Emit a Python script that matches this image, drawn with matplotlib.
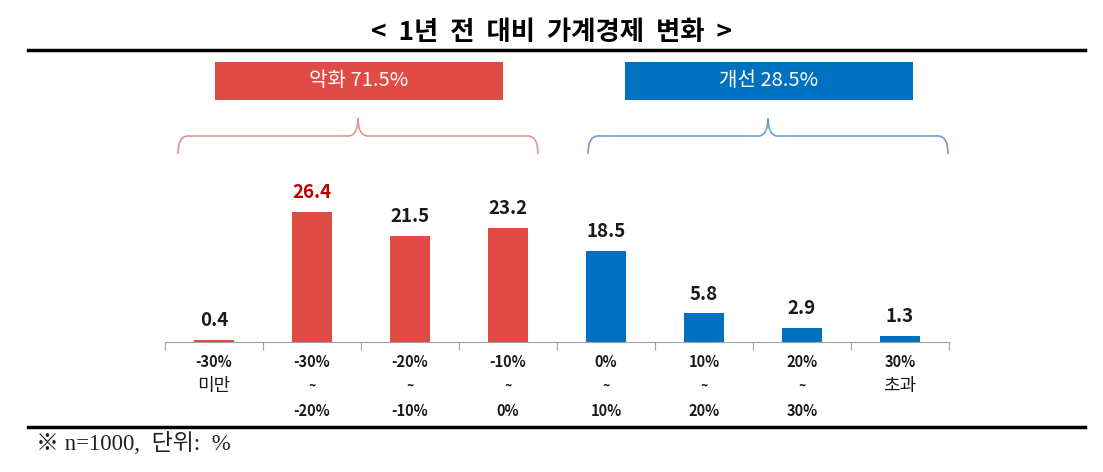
import matplotlib.pyplot as plt
from matplotlib.path import Path
from matplotlib.patches import PathPatch, Rectangle

plt.rcParams['font.family'] = ['Noto Sans CJK KR', 'DejaVu Sans']

# data
categories = ['-30%\n미만', '-30%\n~\n-20%', '-20%\n~\n-10%', '-10%\n~\n0%',
              '0%\n~\n10%', '10%\n~\n20%', '20%\n~\n30%', '30%\n초과']
values = [0.4, 26.4, 21.5, 23.2, 18.5, 5.8, 2.9, 1.3]
groups = ['악화', '악화', '악화', '악화', '개선', '개선', '개선', '개선']
group_labels = ['악화 71.5%', '개선 28.5%']

RED = '#E04B45'
BLUE = '#0070C0'
W, H = 1103, 472

fig = plt.figure(figsize=(W / 100, H / 100), dpi=100)


def fx(px):
    return px / W


def fy(py):
    return 1 - py / H


# axes: baseline at y=342, x from 165 to 949
ax = fig.add_axes([fx(165), fy(342), fx(949) - fx(165), fy(160) - fy(342)])
colors = [RED if g == '악화' else BLUE for g in groups]
xs = range(len(values))
ax.bar(xs, values, width=0.4, color=colors, zorder=2)
ax.set_xlim(-0.5, len(values) - 0.5)
ax.set_ylim(0, 182 / 4.93)

for i, v in enumerate(values):
    c = '#C00000' if v == max(values) else '#1a1a1a'
    ax.annotate(f'{v:.1f}', (i, v), xytext=(0, 7), textcoords='offset points',
                ha='center', va='bottom', fontsize=13.5, fontweight='bold', color=c)

for s in ['top', 'right', 'left']:
    ax.spines[s].set_visible(False)
ax.spines['bottom'].set_color('#a0a0a0')
ax.set_yticks([])
ax.set_xticks([i - 0.5 for i in range(len(values) + 1)])
ax.set_xticklabels([])
ax.tick_params(axis='x', length=6, color='#a0a0a0', width=0.8)
for i, lab in enumerate(categories):
    lines = lab.split('\n')
    for j, ln in enumerate(lines):
        korean = any('\uac00' <= ch <= '\ud7a3' for ch in ln)
        if korean:
            size, weight = 13, 'normal'
        elif ln == '~':
            size, weight = 9, 'bold'
        else:
            size, weight = 10.5, 'bold'
        ax.annotate(ln, (i, 0), xytext=(0, -14.5 - j * 17.5), textcoords='offset points',
                    ha='center', va='center', fontsize=size, fontweight=weight,
                    color='#1a1a1a', annotation_clip=False)

# title and rules
fig.text(0.5, fy(33), '<  1년  전  대비  가계경제  변화  >', ha='center', va='center',
         fontsize=19, fontweight='bold')
fig.add_artist(plt.Line2D([fx(28), fx(1085)], [fy(50), fy(50)], color='black', lw=2.5))
fig.add_artist(plt.Line2D([fx(28), fx(1085)], [fy(427), fy(427)], color='black', lw=2.5))
fig.text(fx(36), fy(443), '※ n=1000,  단위:  %', ha='left', va='center', fontsize=16.5,
         color='#222222', family=['Liberation Serif', 'Noto Sans CJK KR'])

# group boxes and braces
boxes = [(215, 503, RED, '#E8918D'), (625, 913, BLUE, '#6E9ED0')]
braces = [(178, 538), (588, 948)]
for (x0, x1, fc, bc), (b0, b1), lab in zip(boxes, braces, group_labels):
    fig.add_artist(Rectangle((fx(x0), fy(100)), fx(x1) - fx(x0), fy(62) - fy(100),
                             transform=fig.transFigure, facecolor=fc, edgecolor='none'))
    fig.text(fx((x0 + x1) / 2), fy(81), lab, ha='center', va='center', fontsize=14.5,
             color='white', fontweight='medium')
    m = (b0 + b1) / 2
    top, mid, bot, r = 118, 136, 154, 10
    pts = [(b0, bot), (b0, mid), (b0 + r, mid), (m - r, mid), (m, mid), (m, top),
           (m, mid), (m + r, mid), (b1 - r, mid), (b1, mid), (b1, bot)]
    codes = [Path.MOVETO, Path.CURVE3, Path.CURVE3, Path.LINETO, Path.CURVE3, Path.CURVE3,
             Path.CURVE3, Path.CURVE3, Path.LINETO, Path.CURVE3, Path.CURVE3]
    path = Path([(fx(a), fy(b)) for a, b in pts], codes)
    fig.add_artist(PathPatch(path, transform=fig.transFigure, facecolor='none',
                             edgecolor=bc, lw=1.2))

fig.savefig('out.png', dpi=100)
